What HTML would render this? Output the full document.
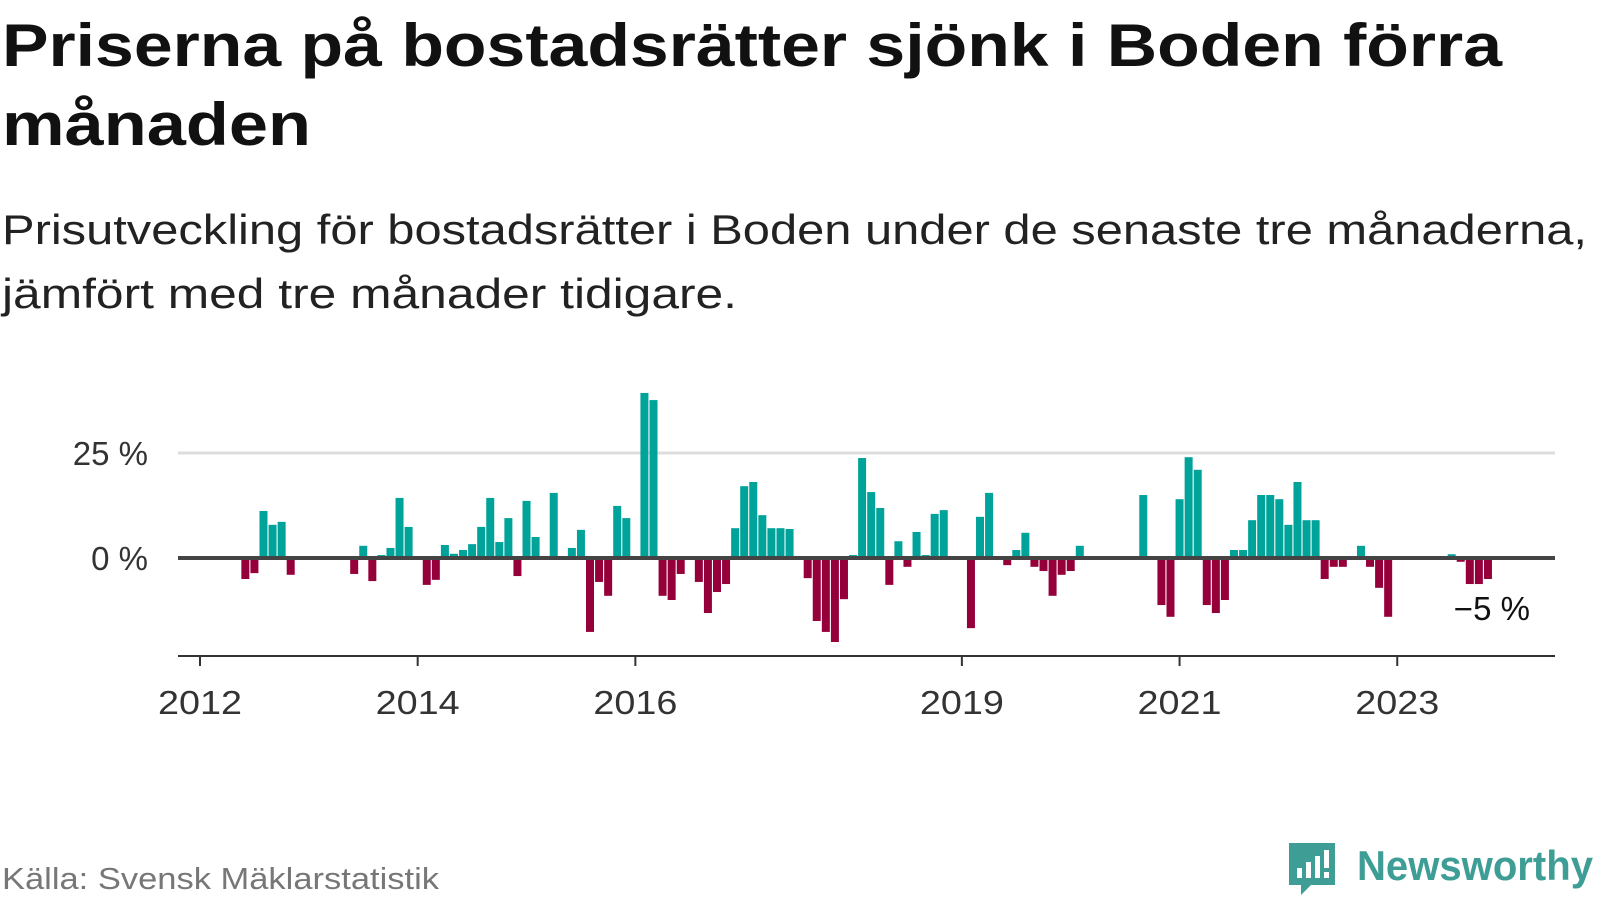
<!DOCTYPE html>
<html><head><meta charset="utf-8"><style>
body{margin:0;background:#fff;width:1600px;height:900px;overflow:hidden;font-family:"Liberation Sans",sans-serif}
</style></head><body>
<svg id="chart" width="1600" height="900" xmlns="http://www.w3.org/2000/svg" font-family="Liberation Sans, sans-serif">
<text x="2" y="66" font-size="60" font-weight="bold" fill="#111" textLength="1500" lengthAdjust="spacingAndGlyphs">Priserna på bostadsrätter sjönk i Boden förra</text>
<text x="2" y="145" font-size="60" font-weight="bold" fill="#111" textLength="309" lengthAdjust="spacingAndGlyphs">månaden</text>
<text x="2" y="244" font-size="42" fill="#222" textLength="1585" lengthAdjust="spacingAndGlyphs">Prisutveckling för bostadsrätter i Boden under de senaste tre månaderna,</text>
<text x="2" y="308" font-size="42" fill="#222" textLength="735" lengthAdjust="spacingAndGlyphs">jämfört med tre månader tidigare.</text>
<g id="grid"></g><g id="bars"></g><g id="axes"></g>
<text x="2" y="889" font-size="31" fill="#777" textLength="437" lengthAdjust="spacingAndGlyphs">Källa: Svensk Mäklarstatistik</text>
<g>
<path d="M1289 843 h46 v42 h-24 l-10 10 v-10 h-12 z" fill="#3e9e95"/>
<rect x="1297" y="868" width="5" height="10" fill="#fff"/><rect x="1306" y="862" width="5" height="16" fill="#fff"/><rect x="1315" y="856" width="5" height="22" fill="#fff"/><rect x="1324" y="850" width="5" height="18" fill="#fff"/><rect x="1324" y="872" width="5" height="6" fill="#fff"/>
<text x="1357" y="880" font-size="42" font-weight="bold" fill="#3e9e95" textLength="236" lengthAdjust="spacingAndGlyphs">Newsworthy</text>
</g>
</svg>
<script>
const months=[5,6,7,8,9,10,17,18,19,20,21,22,23,25,26,27,28,29,30,31,32,33,34,35,36,37,39,41,42,43,44,45,46,47,49,50,51,52,53,55,56,57,58,59,60,61,62,63,64,65,67,68,69,70,71,72,73,74,75,76,77,78,79,80,81,82,85,86,87,89,90,91,92,93,94,95,96,97,104,106,107,108,109,110,111,112,113,114,115,116,117,118,119,120,121,122,123,124,125,126,128,129,130,131,138,139,140,141,142];
const values=[-5,-3.6,11.2,7.9,8.6,-4,-3.8,2.9,-5.5,0.7,2.4,14.3,7.4,-6.4,-5.2,3.1,1,1.9,3.3,7.4,14.3,3.8,9.5,-4.3,13.6,5,15.5,2.4,6.7,-17.6,-5.7,-9,12.4,9.5,39.3,37.6,-9,-10,-3.8,-5.7,-13.1,-8.1,-6.2,7.1,17.1,18.1,10.2,7.1,7.1,6.9,-4.8,-15,-17.6,-20,-9.8,0.7,23.8,15.7,11.9,-6.4,4,-2.1,6.2,0.7,10.5,11.4,-16.7,9.8,15.5,-1.7,1.9,6,-2.1,-3.1,-9,-4,-3.1,2.9,15,-11.2,-14,14,24,21,-11.2,-13.1,-10,1.9,1.9,9,15,15,14,7.9,18.1,9,9,-5,-2.1,-2.1,2.9,-2.1,-7.1,-14,0.9,-0.9,-6.2,-6.2,-5];
const yTicks=[0,25];
const yTickLabels=["0 %","25 %"];
const xTickMonths=[0,24,48,84,108,132];
const xTickLabels=["2012","2014","2016","2019","2021","2023"];
const lastLabel="−5 %";
const NS="http://www.w3.org/2000/svg";
const x=m=>200+m*9.07;
const y=v=>558-v*4.2;
function mk(tag,attrs,parent){const e=document.createElementNS(NS,tag);for(const k in attrs)e.setAttribute(k,attrs[k]);parent.appendChild(e);return e;}
const grid=document.getElementById('grid'),bars=document.getElementById('bars'),axes=document.getElementById('axes');
yTicks.forEach((t,i)=>{
 if(t!==0){const g=mk('line',{x1:178,x2:1555,y1:y(t),y2:y(t),stroke:'#ddd','stroke-width':3},grid);
 
 }
 const l=mk('text',{x:148,y:y(t)+12,'text-anchor':'end','font-size':33,fill:'#333'},axes);
 l.textContent=yTickLabels[i];
 
 
});
months.forEach((m,i)=>{
 const v=values[i];
 const r=mk('rect',{x:x(m)-4,width:8,y:v>=0?y(v):y(0),height:Math.abs(y(v)-y(0)),fill:v>=0?'#00a39a':'#95003a'},bars);
 
 
});
const z=mk('line',{x1:178,x2:1555,y1:y(0),y2:y(0),stroke:'#444','stroke-width':4},axes);


const ax=mk('line',{x1:178,x2:1555,y1:656,y2:656,stroke:'#333','stroke-width':2},axes);


xTickMonths.forEach((m,i)=>{
 const t=mk('line',{x1:x(m),x2:x(m),y1:656,y2:666,stroke:'#333','stroke-width':2},axes);
 
 
 const l=mk('text',{x:x(m),y:714,'text-anchor':'middle','font-size':33,fill:'#333',textLength:84,lengthAdjust:'spacingAndGlyphs'},axes);
 l.textContent=xTickLabels[i];
 
 
});
const lm=months[months.length-1];
const ll=mk('text',{x:x(lm)+42,y:y(values[values.length-1])+41,'text-anchor':'end','font-size':33,fill:'#111'},axes);
ll.textContent=lastLabel;


</script>
</body></html>
